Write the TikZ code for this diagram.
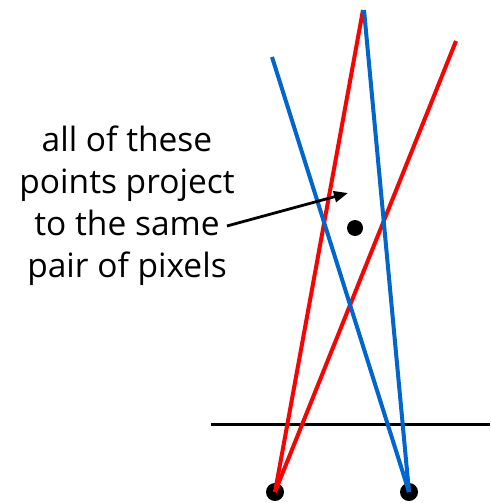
\documentclass[tikz,border=0pt]{standalone}
\usepackage{fontspec}
\setmainfont{Open Sans}
\usetikzlibrary{arrows.meta,positioning}
\definecolor{rayRed}{HTML}{FF0000}
\definecolor{rayBlue}{HTML}{0066CC}

\begin{document}
\begin{tikzpicture}[
    x=1pt, y=-1pt,
    every node/.style={font=\fontsize{33.5}{42}\selectfont},
    ray/.style={line width=4pt},
    dot/.style={circle, fill=black, inner sep=0pt, minimum size=#1},
    arr/.style={-{Triangle[length=14pt,width=11pt]}, line width=2.8pt},
  ]
  \useasboundingbox (0,0) rectangle (490,503);
  % cameras and the 3D point
  \node[dot=18pt] (camL) at (275,492) {};
  \node[dot=18pt] (camR) at (409,492) {};
  \node[dot=16pt] (pt) at (355,228) {};
  % ray ends
  \coordinate (redA) at (363,10);
  \coordinate (redB) at (456,41);
  \coordinate (blueA) at (272,57);
  \coordinate (blueB) at (364,10);
  % image line
  \coordinate (imgL) at (211,424);
  \coordinate (imgR) at (490,424);
  \draw[line width=3pt] (imgL) -- (imgR);
  % rays
  \draw[ray, rayRed] (camL.center) -- (redA);
  \draw[ray, rayRed] (camL.center) -- (redB);
  \draw[ray, rayBlue] (camR.center) -- (blueA);
  \draw[ray, rayBlue] (camR.center) -- (blueB);
  % label
  \node[align=center] (lbl) at (127,206)
    {all of these\\points project\\to the same\\pair of pixels};
  \coordinate (arrS) at (227,226);
  \coordinate (arrE) at (348,193);
  \draw[arr] (arrS) -- (arrE);
\end{tikzpicture}
\end{document}
